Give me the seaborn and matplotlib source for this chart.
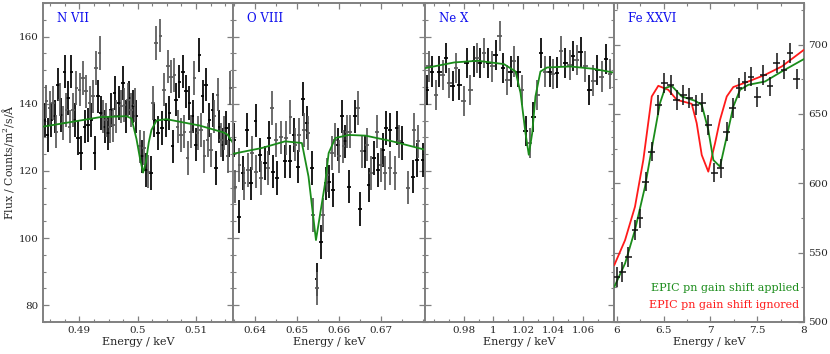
import numpy as np
import pandas as pd
import matplotlib
matplotlib.use("Agg")
import matplotlib.pyplot as plt
import seaborn as sns
from matplotlib.ticker import MultipleLocator, FixedLocator, FuncFormatter

# ---------------- data ----------------
# N VII panel
nvii_e = [0.48404,0.48432,0.48455,0.48489,0.48518,0.48546,0.48575,0.48603,0.48632,0.48660,
          0.48689,0.48717,0.48746,0.48775,0.48803,0.48832,0.48860,0.48889,0.48917,0.48946,
          0.48974,0.49003,0.49031,0.49060,0.49089,0.49117,0.49146,0.49174,0.49203,0.49231,
          0.49260,0.49288,0.49317,0.49345,0.49374,0.49403,0.49431,0.49460,0.49488,0.49517,
          0.49545,0.49574,0.49602,0.49631,0.49676,0.49716,0.49745,0.49773,0.49802,0.49830,
          0.49859,0.49888,0.49916,0.49945,0.49973,
          0.50031,0.50070,0.50105,0.50145,0.50185,0.50230,0.50259,0.50287,0.50316,0.50344,
          0.50390,0.50413,0.50447,0.50487,0.50516,0.50544,0.50573,0.50601,0.50630,0.50658,
          0.50687,0.50716,0.50744,0.50773,0.50801,0.50830,0.50858,0.50887,0.50915,0.50944,
          0.50972,0.51001,0.51029,0.51058,0.51086,0.51115,0.51144,0.51172,0.51201,0.51229,
          0.51258,0.51286,0.51315,0.51343,0.51372,0.51400,0.51429,0.51457,0.51486,0.51515,
          0.51543,0.51572,0.51589]
nvii_f = [135.2,140.7,130.7,138.7,135.2,140.2,136.2,131.7,145.7,141.2,
          136.7,134.2,149.6,138.2,141.7,133.2,149.6,138.2,135.2,144.7,
          129.8,144.2,125.3,147.7,133.2,143.7,133.7,140.2,135.2,142.2,
          125.3,150.6,142.2,155.1,137.2,136.2,133.2,135.2,131.2,133.2,
          138.2,133.7,143.2,136.2,140.2,139.2,146.2,139.7,136.2,141.2,
          141.7,138.2,139.2,139.7,136.2,
          127.3,124.3,126.8,120.3,119.8,119.3,140.2,135.2,158.1,131.2,
          160.3,132.7,144.2,135.2,151.1,137.2,148.1,127.3,148.6,141.2,
          133.2,146.6,130.7,149.6,131.7,143.7,123.8,140.2,131.7,136.2,
          147.7,127.8,131.2,154.6,132.2,142.2,124.3,145.7,129.2,135.2,
          126.3,138.2,136.2,120.8,142.7,133.2,129.2,127.8,131.2,132.7,
          124.3,129.2,144.7]
nvii_model_e = [0.48380,0.48837,0.49351,0.49808,0.49894,0.49979,0.50036,0.50092,0.50139,
                0.50190,0.50236,0.50322,0.50493,0.51063,0.51462,0.51543,0.51634]
nvii_model_f = [133.2,134.5,136.0,136.3,135.6,129.5,124.0,119.5,122.5,
                128.5,132.2,135.0,135.4,133.5,131.5,130.8,128.3]

# O VIII panel
oviii_e = [0.63512,0.63520,0.63616,0.63632,0.63712,0.63752,0.63808,0.63832,0.63912,0.63936,
           0.64016,0.64032,0.64128,0.64152,0.64232,0.64312,0.64336,0.64416,0.64432,0.64512,
           0.64528,0.64631,0.64711,0.64735,0.64831,0.64847,0.64927,0.64951,0.65031,0.65047,
           0.65151,0.65167,0.65247,0.65271,0.65367,0.65383,0.65471,0.65487,0.65567,0.65615,
           0.65695,0.65727,
           0.65775,0.65847,0.65871,0.65911,0.65974,0.66006,0.66070,0.66110,0.66150,0.66190,
           0.66246,0.66270,0.66390,0.66454,0.66510,0.66550,0.66614,0.66670,0.66710,0.66774,
           0.66830,0.66910,0.66934,0.67014,0.67046,0.67110,0.67125,0.67213,0.67229,0.67333,
           0.67389,0.67429,0.67509,0.67653,0.67765,0.67789,0.67869,0.67893,0.68013]
oviii_f = [129.2,115.3,106.4,121.8,119.3,116.3,132.2,120.3,116.3,125.3,
           135.0,119.8,124.8,117.8,122.3,120.8,129.8,138.7,119.8,129.2,
           117.8,130.0,122.8,129.8,122.8,136.0,130.7,127.8,121.3,130.7,
           141.4,132.2,134.4,131.2,120.8,106.9,87.7,85.0,98.9,106.9,
           116.3,118.8,
           116.8,125.3,114.3,129.2,127.8,124.3,136.2,127.3,128.8,131.7,
           115.3,131.7,136.2,138.7,108.6,125.8,125.8,127.8,115.8,119.3,
           123.8,131.7,120.3,121.8,126.3,119.3,132.7,120.8,132.2,119.3,
           132.7,128.8,128.3,115.0,118.3,132.2,123.3,128.8,123.3]
oviii_model_e = [0.63480,0.64161,0.64719,0.65120,0.65278,0.65456,0.65679,0.65758,0.65918,
                 0.66237,0.66638,0.67278,0.68053]
oviii_model_f = [125.1,126.8,128.8,128.3,118.3,99.4,116.8,125.3,129.8,
                 130.7,130.5,128.8,126.3]

# Ne X panel
nex_e = [0.95560,0.95671,0.95892,0.96158,0.96380,0.96602,0.96823,0.97045,0.97267,0.97488,
         0.97710,0.97998,0.98198,0.98441,0.98707,0.98929,0.99084,0.99372,0.99660,0.99926,
         1.00148,1.00414,1.00635,1.00923,1.01145,1.01366,1.01655,
         1.01877,1.02142,1.02431,1.02652,1.02918,1.03184,1.03472,1.03760,1.03982,1.04248,
         1.04514,1.04802,1.05090,1.05312,1.05578,1.05844,1.06132,1.06420,1.06686,1.06952,
         1.07240,1.07528,1.07794]
nex_f = [144.2,151.1,149.6,142.7,149.6,148.6,153.6,146.2,145.2,150.6,
         145.7,140.7,152.1,144.0,152.6,153.6,152.1,155.1,152.1,151.1,
         154.6,160.1,150.6,147.1,149.6,152.6,149.6,
         144.2,131.9,128.2,136.0,142.7,155.1,149.6,149.6,148.9,149.3,
         155.6,152.1,151.6,154.3,153.1,155.4,151.1,144.2,146.9,150.1,
         148.1,153.4,148.9]
nex_model_e = [0.95427,0.97375,0.98931,1.00699,1.01477,1.01810,1.02142,1.02362,1.02588,
               1.02807,1.03140,1.03585,1.05134,1.06684,1.08013]
nex_model_f = [150.6,152.3,152.8,151.8,149.6,143.2,131.2,124.8,131.2,
               142.2,149.6,150.8,151.1,150.4,149.3]

# Fe XXVI panel
fe_e = [6.000,6.060,6.124,6.195,6.249,6.310,6.374,6.444,6.508,6.577,
        6.641,6.711,6.775,6.844,6.914,6.978,7.042,7.111,7.175,7.239,
        7.306,7.370,7.434,7.501,7.565,7.637,7.708,7.786,7.850,7.922]
fe_f = [532.5,536.1,547.0,566.3,574.7,601.2,622.8,656.6,672.2,671.0,
        660.2,663.8,661.4,656.6,658.2,642.1,607.7,610.8,637.3,654.2,
        668.6,673.4,677.0,662.1,678.2,669.8,686.7,681.9,693.9,675.3]
fe_applied_e = [5.974,6.089,6.195,6.302,6.391,6.462,6.516,6.587,6.694,6.836,6.908,
                6.978,7.032,7.103,7.175,7.245,7.317,7.405,7.584,7.762,8.0]
fe_applied_f = [525.3,542.2,566.3,597.5,631.3,657.8,668.6,670.3,662.6,659.5,656.6,
                638.5,616.8,612.0,633.7,655.3,667.4,671.0,673.4,680.6,689.6]
fe_ignored_e = [5.974,6.089,6.195,6.284,6.374,6.444,6.551,6.641,6.801,6.854,6.908,
                6.978,7.050,7.103,7.175,7.245,7.405,7.584,7.762,8.0]
fe_ignored_f = [541.0,559.0,583.1,616.8,662.6,670.3,667.4,660.2,657.3,643.4,620.4,
                608.4,628.9,645.7,662.6,669.4,673.4,678.2,684.2,696.3]

ion_labels = ["N VII", "O VIII", "Ne X", "Fe XXVI"]
legend_labels = ["EPIC pn gain shift applied", "EPIC pn gain shift ignored"]
xtick_sets = [[0.49, 0.50, 0.51],
              [0.64, 0.65, 0.66, 0.67],
              [0.98, 1.00, 1.02, 1.04, 1.06],
              [6.0, 6.5, 7.0, 7.5, 8.0]]
left_yticks = [80, 100, 120, 140, 160]
right_yticks = [500, 550, 600, 650, 700]

# ---------------- style ----------------
sns.set_theme(style="ticks")
plt.rcParams['font.family'] = ['DejaVu Serif']
plt.rcParams['mathtext.fontset'] = 'dejavuserif'

GREEN = '#1a8c1a'
RED = '#ff1a1a'
SPINE = '#808080'

fig = plt.figure(figsize=(8.30, 3.54), dpi=100)
W, H = 830.0, 354.0
edges = [43, 233, 425, 614, 804]
top, bottom = 3, 322
axes = []
for i in range(4):
    ax = fig.add_axes([edges[i] / W, 1 - bottom / H, (edges[i + 1] - edges[i]) / W, (bottom - top) / H])
    axes.append(ax)


def style(ax):
    for s in ax.spines.values():
        s.set_color(SPINE)
        s.set_linewidth(1.4)
    ax.tick_params(which='both', direction='in', top=True, bottom=True, left=True, right=True,
                   color=SPINE, labelsize=7.5, pad=3)
    ax.tick_params(which='major', length=4.5, width=0.9)
    ax.tick_params(which='minor', length=2.5, width=0.8)
    ax.set_xlabel("Energy / keV", fontsize=8, labelpad=1)


def fmt_tick(v, p):
    s = f"{v:.2f}".rstrip('0').rstrip('.')
    return s


def draw_data(ax, e, f, xerr, yerr):
    e = np.asarray(e); f = np.asarray(f)
    idx = np.arange(len(e))
    for sel, col in [(idx % 2 == 0, '#000000'), (idx % 2 == 1, '#5a5a5a')]:
        ax.errorbar(e[sel], f[sel], xerr=xerr, yerr=yerr, fmt='none', ecolor=col,
                    elinewidth=1.25, capsize=0, zorder=2)


def draw_model(ax, e, f, color):
    df = pd.DataFrame({'E': e, 'F': f})
    sns.lineplot(data=df, x='E', y='F', ax=ax, color=color, lw=1.3, estimator=None,
                 sort=False, zorder=3)


panels = [
    (nvii_e, nvii_f, nvii_model_e, nvii_model_f, (0.48375, 0.51635), 0.00030, 5.0, 0.0025),
    (oviii_e, oviii_f, oviii_model_e, oviii_model_f, (0.63478, 0.68055), 0.00045, 5.0, 0.005),
    (nex_e, nex_f, nex_model_e, nex_model_f, (0.95420, 1.08060), 0.0016, 4.5, 0.01),
]

for k, (ax, (e, f, me, mf, xl, xe, ye, mnr)) in enumerate(zip(axes[:3], panels)):
    draw_data(ax, e, f, xe, ye)
    draw_model(ax, me, mf, GREEN)
    ax.set_xlim(*xl)
    ax.set_ylim(75, 170)
    ax.xaxis.set_major_locator(FixedLocator(xtick_sets[k]))
    ax.xaxis.set_minor_locator(MultipleLocator(mnr))
    ax.xaxis.set_major_formatter(FuncFormatter(fmt_tick))
    ax.yaxis.set_major_locator(FixedLocator(left_yticks))
    ax.yaxis.set_minor_locator(MultipleLocator(5))
    style(ax)
    ax.set_ylabel("")

axes[0].set_ylabel("Flux / Counts/m$^2$/s/Å", fontsize=7.8, labelpad=2)
for ax in axes[1:3]:
    ax.tick_params(labelleft=False)

# Fe XXVI
ax = axes[3]
draw_model(ax, fe_ignored_e, fe_ignored_f, RED)
draw_model(ax, fe_applied_e, fe_applied_f, GREEN)
ax.errorbar(np.asarray(fe_e), fe_f, xerr=0.035, yerr=7, fmt='none', ecolor='#111111',
            elinewidth=1.1, capsize=0, zorder=4)
ax.set_xlim(5.971, 8.0)
ax.set_ylim(500, 730)
ax.xaxis.set_major_locator(FixedLocator(xtick_sets[3]))
ax.xaxis.set_minor_locator(MultipleLocator(0.25))
ax.xaxis.set_major_formatter(FuncFormatter(lambda v, p: f"{v:g}"))
ax.yaxis.set_major_locator(FixedLocator(right_yticks))
ax.yaxis.set_minor_locator(MultipleLocator(25))
style(ax)
ax.set_ylabel("")
ax.tick_params(labelleft=False, labelright=True)

ax.text(0.975, 0.108, legend_labels[0], transform=ax.transAxes, color=GREEN, fontsize=8,
        ha='right', va='center')
ax.text(0.975, 0.052, legend_labels[1], transform=ax.transAxes, color=RED, fontsize=8,
        ha='right', va='center')

for ax, lab in zip(axes, ion_labels):
    ax.text(0.075, 0.952, lab, transform=ax.transAxes, color='#1010ee', fontsize=8.5,
            ha='left', va='center')

fig.savefig("out.png", dpi=100)
